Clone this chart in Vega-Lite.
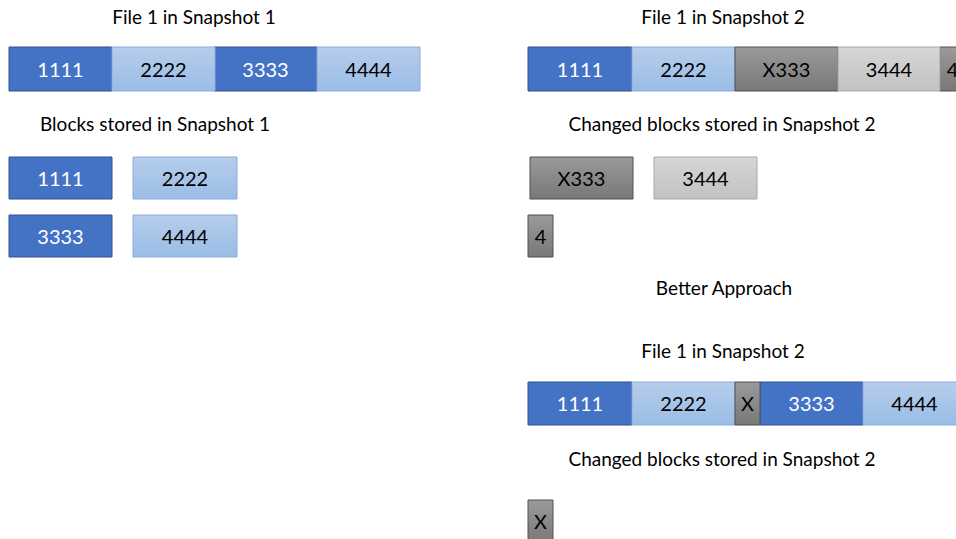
{
  "$schema": "https://vega.github.io/schema/vega-lite/v6.json",
  "width": 956,
  "height": 539,
  "autosize": {"type": "fit", "contains": "padding"},
  "padding": 0,
  "background": "white",
  "view": {"stroke": null},
  "config": {"axis": {"disable": true}},
  "datasets": {
    "boxes": [
      {"id": "a1", "label": "1111", "kind": "blue", "x": 9, "x2": 112, "y": 47, "y2": 91},
      {"id": "a2", "label": "2222", "kind": "lightblue", "x": 112, "x2": 215, "y": 47, "y2": 91},
      {"id": "a3", "label": "3333", "kind": "blue", "x": 214, "x2": 317, "y": 47, "y2": 91},
      {"id": "a4", "label": "4444", "kind": "lightblue", "x": 317, "x2": 420, "y": 47, "y2": 91},
      {"id": "b1", "label": "1111", "kind": "blue", "x": 9, "x2": 112, "y": 157, "y2": 199},
      {"id": "b2", "label": "2222", "kind": "lightblue", "x": 133, "x2": 237, "y": 157, "y2": 199},
      {"id": "b3", "label": "3333", "kind": "blue", "x": 9, "x2": 112, "y": 215, "y2": 257},
      {"id": "b4", "label": "4444", "kind": "lightblue", "x": 133, "x2": 237, "y": 215, "y2": 257},
      {"id": "c1", "label": "1111", "kind": "blue", "x": 528, "x2": 632, "y": 47, "y2": 91},
      {"id": "c2", "label": "2222", "kind": "lightblue", "x": 632, "x2": 735, "y": 47, "y2": 91},
      {"id": "c3", "label": "X333", "kind": "darkgray", "x": 735, "x2": 838, "y": 47, "y2": 91},
      {"id": "c4", "label": "3444", "kind": "lightgray", "x": 838, "x2": 940, "y": 47, "y2": 91},
      {"id": "c5", "label": "4", "kind": "darkgray", "x": 940, "x2": 965, "y": 47, "y2": 91},
      {"id": "d1", "label": "X333", "kind": "darkgray", "x": 530, "x2": 633, "y": 157, "y2": 199},
      {"id": "d2", "label": "3444", "kind": "lightgray", "x": 654, "x2": 757, "y": 157, "y2": 199},
      {"id": "d3", "label": "4", "kind": "darkgray", "x": 528, "x2": 553, "y": 215, "y2": 257},
      {"id": "e1", "label": "1111", "kind": "blue", "x": 528, "x2": 632, "y": 382, "y2": 425},
      {"id": "e2", "label": "2222", "kind": "lightblue", "x": 632, "x2": 735, "y": 382, "y2": 425},
      {"id": "e3", "label": "X", "kind": "darkgray", "x": 735, "x2": 760, "y": 382, "y2": 425},
      {"id": "e4", "label": "3333", "kind": "blue", "x": 760, "x2": 863, "y": 382, "y2": 425},
      {"id": "e5", "label": "4444", "kind": "lightblue", "x": 863, "x2": 966, "y": 382, "y2": 425},
      {"id": "f1", "label": "X", "kind": "darkgray", "x": 528, "x2": 553, "y": 500, "y2": 543}
    ],
    "titles": [
      {"label": "File 1 in Snapshot 1", "tx": 194, "ty": 17},
      {"label": "Blocks stored in Snapshot 1", "tx": 155, "ty": 124},
      {"label": "File 1 in Snapshot 2", "tx": 723, "ty": 17},
      {"label": "Changed blocks stored in Snapshot 2", "tx": 722, "ty": 124},
      {"label": "Better Approach", "tx": 724, "ty": 288},
      {"label": "File 1 in Snapshot 2", "tx": 723, "ty": 351},
      {"label": "Changed blocks stored in Snapshot 2", "tx": 722, "ty": 459}
    ]
  },
  "data": {"name": "boxes"},
  "encoding": {
    "x": {"field": "x", "type": "quantitative", "scale": {"domain": [0, 956], "nice": false, "zero": false}, "axis": null},
    "x2": {"field": "x2"},
    "y": {"field": "y", "type": "quantitative", "scale": {"domain": [0, 539], "nice": false, "zero": false, "reverse": true}, "axis": null},
    "y2": {"field": "y2"}
  },
  "layer": [
    {
      "transform": [{"filter": "datum.kind == 'blue'"}],
      "mark": {"type": "rect", "clip": true, "fill": "#4472C4", "stroke": "#2F528F", "strokeWidth": 1}
    },
    {
      "transform": [{"filter": "datum.kind == 'lightblue'"}],
      "mark": {"type": "rect", "clip": true, "stroke": "#8FAADC", "strokeWidth": 1,
        "fill": {"gradient": "linear", "x1": 0, "y1": 0, "x2": 0, "y2": 1, "stops": [{"offset": 0, "color": "#B6CDEB"}, {"offset": 1, "color": "#9ABDE6"}]}}
    },
    {
      "transform": [{"filter": "datum.kind == 'darkgray'"}],
      "mark": {"type": "rect", "clip": true, "stroke": "#505050", "strokeWidth": 1,
        "fill": {"gradient": "linear", "x1": 0, "y1": 0, "x2": 0, "y2": 1, "stops": [{"offset": 0, "color": "#9A9A9A"}, {"offset": 1, "color": "#787878"}]}}
    },
    {
      "transform": [{"filter": "datum.kind == 'lightgray'"}],
      "mark": {"type": "rect", "clip": true, "stroke": "#A8A8A8", "strokeWidth": 1,
        "fill": {"gradient": "linear", "x1": 0, "y1": 0, "x2": 0, "y2": 1, "stops": [{"offset": 0, "color": "#D6D6D6"}, {"offset": 1, "color": "#C2C2C2"}]}}
    },
    {
      "transform": [
        {"fold": ["x", "x2"], "as": ["kx", "xv"]},
        {"fold": ["y", "y2"], "as": ["ky", "yv"]},
        {"aggregate": [{"op": "mean", "field": "xv", "as": "cx"}, {"op": "mean", "field": "yv", "as": "cy"}], "groupby": ["id", "label", "kind"]}
      ],
      "mark": {"type": "text", "font": "Lato", "fontSize": 20, "align": "center", "baseline": "middle", "dy": 1.5, "clip": true},
      "encoding": {
        "x": {"field": "cx", "type": "quantitative"},
        "y": {"field": "cy", "type": "quantitative"},
        "x2": null,
        "y2": null,
        "text": {"field": "label"},
        "color": {"field": "kind", "type": "nominal", "legend": null, "scale": {"domain": ["blue", "lightblue", "darkgray", "lightgray"], "range": ["#FFFFFF", "#000000", "#000000", "#000000"]}}
      }
    },
    {
      "data": {"name": "titles"},
      "mark": {"type": "text", "font": "Lato", "fontSize": 19, "align": "center", "baseline": "middle", "dy": 1, "color": "#000000"},
      "encoding": {
        "x": {"field": "tx", "type": "quantitative"},
        "y": {"field": "ty", "type": "quantitative"},
        "x2": null,
        "y2": null,
        "text": {"field": "label"}
      }
    }
  ]
}
